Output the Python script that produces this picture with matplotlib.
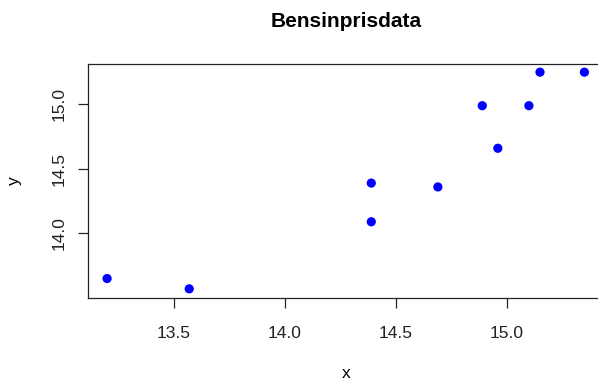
import matplotlib.pyplot as plt

# Bensinpris data
x = [13.20, 13.57, 14.39, 14.39, 14.69, 14.89, 14.96, 15.10, 15.15, 15.35]
y = [13.65, 13.57, 14.39, 14.09, 14.36, 14.99, 14.66, 14.99, 15.25, 15.25]
xticks = [13.5, 14.0, 14.5, 15.0]
yticks = [14.0, 14.5, 15.0]

plt.rcParams['font.family'] = ['Liberation Sans', 'DejaVu Sans']

fig = plt.figure(figsize=(5.98, 3.81), dpi=100)
ax = fig.add_axes([88 / 598, 1 - 297.5 / 381, (603.5 - 88) / 598, 234 / 381])

ax.scatter(x, y, s=44, color='#0000ff', edgecolors='none', zorder=3)

# R style 4% padding around data
xr = max(x) - min(x)
yr = max(y) - min(y)
ax.set_xlim(min(x) - 0.04 * xr, max(x) + 0.04 * xr)
ax.set_ylim(min(y) - 0.04 * yr, max(y) + 0.04 * yr)

ax.set_xticks(xticks)
ax.set_xticklabels([f'{v:.1f}' for v in xticks])
ax.set_yticks(yticks)
ax.set_yticklabels([f'{v:.1f}' for v in yticks], rotation=90, va='center')
ax.tick_params(length=7.5, width=0.9, labelsize=12.5, colors='#222222', pad=8)
ax.tick_params(axis='x', pad=13)

for sp in ax.spines.values():
    sp.set_linewidth(0.9)
    sp.set_color('#222222')

ax.set_title('Bensinprisdata', fontsize=15, fontweight='bold', pad=26)
ax.set_xlabel('x', fontsize=12.5)
ax.set_ylabel('y', fontsize=12.5)
ax.xaxis.set_label_coords(0.5, (297.5 - 374) / 234)
ax.xaxis.label.set_va('center')
ax.yaxis.set_label_coords((14 - 88) / 515.5, 0.5)
ax.yaxis.label.set_va('center')

fig.savefig('out.png', dpi=100)
